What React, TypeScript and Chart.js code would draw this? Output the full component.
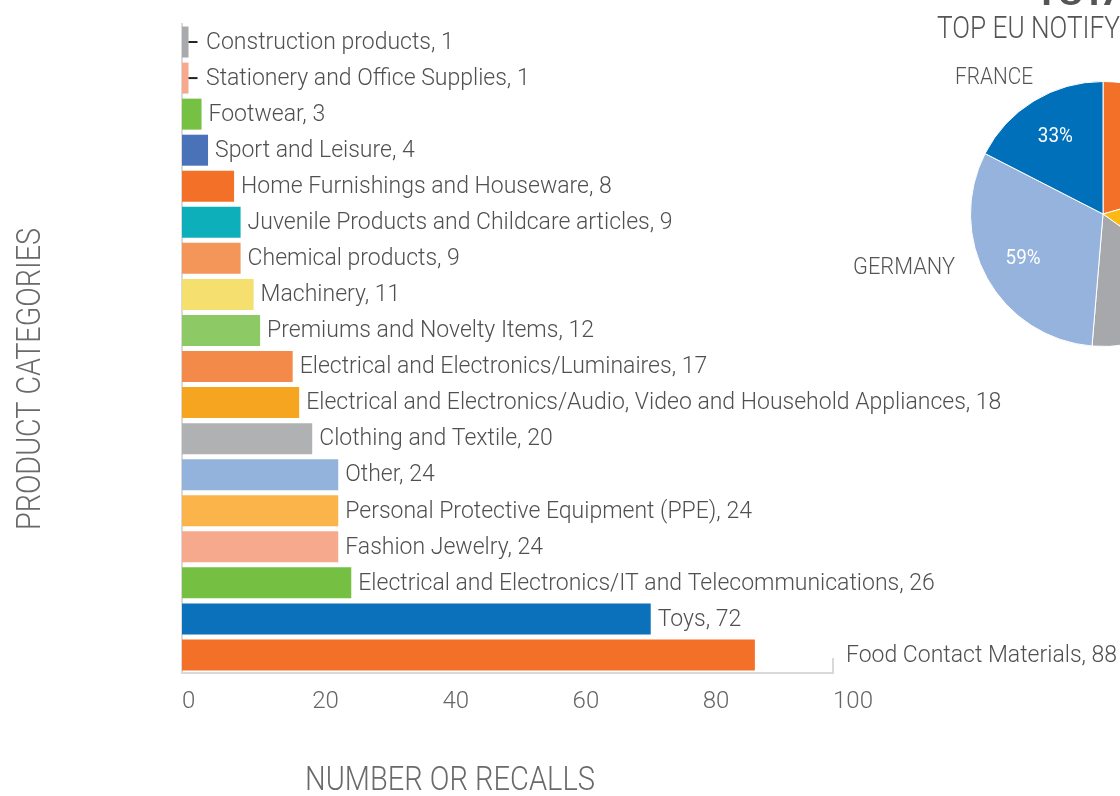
import React, { useEffect, useRef } from "react";
import { Chart, registerables } from "chart.js";

Chart.register(...registerables);

// ---- Bar chart data ----
const categories = [
  "Construction products",
  "Stationery and Office Supplies",
  "Footwear",
  "Sport and Leisure",
  "Home Furnishings and Houseware",
  "Juvenile Products and Childcare articles",
  "Chemical products",
  "Machinery",
  "Premiums and Novelty Items",
  "Electrical and Electronics/Luminaires",
  "Electrical and Electronics/Audio, Video and Household Appliances",
  "Clothing and Textile",
  "Other",
  "Personal Protective Equipment (PPE)",
  "Fashion Jewelry",
  "Electrical and Electronics/IT and Telecommunications",
  "Toys",
  "Food Contact Materials",
];
const recalls = [1, 1, 3, 4, 8, 9, 9, 11, 12, 17, 18, 20, 24, 24, 24, 26, 72, 88];
const barColors = [
  "#A9AAAD", "#F6A98D", "#76C043", "#4A72B8", "#F37029", "#0DB0BA",
  "#F4955A", "#F5DF6E", "#8DC965", "#F48A49", "#F6A520", "#B0B1B3",
  "#93B3DC", "#FBB44A", "#F6A98D", "#75BF43", "#0A71BA", "#F37029",
];
const xTickValues = [0, 20, 40, 60, 80, 100];
const labelsBeyondAxis = ["Food Contact Materials"];
const xAxisTitle = "NUMBER OR RECALLS";
const yAxisTitle = "PRODUCT CATEGORIES";

// ---- Pie chart data ----
const countries = ["Other A", "Other B", "Other C", "GERMANY", "FRANCE"];
const notifications = [39, 27, 31, 59, 33];
const pieColors = ["#F37029", "#FDB913", "#A7A8AB", "#95B3DC", "#0070BA"];
const shownCountryLabels = ["FRANCE", "GERMANY"];
const pieTitleLines = ["TOTAL NOTIFICATIONS", "TOP EU NOTIFYING COUNTRIES"];

const FONT = 'Roboto, "Noto Sans", sans-serif';

// draw text horizontally condensed so that `fitPart` (or the whole text) spans `width`
function condensedText(
  ctx: CanvasRenderingContext2D,
  text: string,
  x: number,
  y: number,
  size: number,
  width: number,
  align: CanvasTextAlign,
  weight = "300",
  fitPart?: string
) {
  ctx.save();
  ctx.font = `${weight} ${size}px ${FONT}`;
  const measured = ctx.measureText(fitPart ?? text).width || 1;
  const sx = width / measured;
  ctx.translate(x, y);
  ctx.scale(sx, 1);
  ctx.textAlign = align;
  ctx.fillText(text, 0, 0);
  ctx.restore();
}

export default function App() {
  const barRef = useRef<HTMLCanvasElement | null>(null);
  const pieRef = useRef<HTMLCanvasElement | null>(null);

  useEffect(() => {
    document.body.style.margin = "0";

    const barLabels = {
      id: "barLabels",
      afterDatasetsDraw(chart: any) {
        const ctx = chart.ctx;
        const xs = chart.scales.x;
        const meta = chart.getDatasetMeta(0);
        ctx.save();
        ctx.font = `300 23px ${FONT}`;
        ctx.fillStyle = "#505050";
        ctx.textBaseline = "middle";
        ctx.textAlign = "left";
        const minX = xs.left + 24;
        meta.data.forEach((bar: any, i: number) => {
          const end = bar.x;
          const y = bar.y;
          let x = end + 7;
          if (labelsBeyondAxis.includes(categories[i])) {
            x = xs.right + 13;
          } else if (x < minX) {
            x = minX;
            ctx.strokeStyle = "#222";
            ctx.lineWidth = 2;
            ctx.beginPath();
            ctx.moveTo(end, y);
            ctx.lineTo(end + 9, y);
            ctx.stroke();
          }
          ctx.fillText(`${categories[i]}, ${recalls[i]}`, x, y + 1);
        });
        // right end bracket of the axis
        ctx.strokeStyle = "#d9d9d9";
        ctx.lineWidth = 2;
        ctx.beginPath();
        ctx.moveTo(xs.right, xs.top - 15);
        ctx.lineTo(xs.right, xs.top + 1);
        ctx.stroke();
        // axis titles
        ctx.fillStyle = "#6a6a6a";
        ctx.textBaseline = "alphabetic";
        condensedText(ctx, xAxisTitle, 450, 790, 34, 290, "center");
        ctx.translate(40, 379);
        ctx.rotate(-Math.PI / 2);
        condensedText(ctx, yAxisTitle, 0, 0, 34, 302, "center");
        ctx.restore();
      },
    };

    const barChart = new Chart(barRef.current as HTMLCanvasElement, {
      type: "bar",
      data: {
        labels: categories,
        datasets: [
          {
            data: recalls,
            backgroundColor: barColors,
            borderWidth: 0,
            barPercentage: 0.86,
            categoryPercentage: 1,
          },
        ],
      },
      options: {
        indexAxis: "y",
        responsive: false,
        animation: false,
        layout: { padding: { left: 182, right: 287, top: 24, bottom: 0 } },
        plugins: { legend: { display: false }, tooltip: { enabled: false } },
        scales: {
          x: {
            min: 0,
            max: 100,
            afterBuildTicks: (s: any) => {
              s.ticks = xTickValues.map((v) => ({ value: v }));
            },
            ticks: {
              align: "start",
              color: "#666666",
              font: { family: FONT, size: 24, weight: "300" },
              padding: 15,
            },
            grid: { display: false, drawTicks: false },
            border: { display: true, color: "#dadada", width: 2 },
            afterFit: (s: any) => {
              s.height = 123;
              s.paddingLeft = 0;
              s.paddingRight = 0;
            },
          },
          y: {
            ticks: { display: false },
            grid: { display: false, drawTicks: false },
            border: { display: true, color: "#dadada", width: 2 },
            afterFit: (s: any) => {
              s.width = 0;
            },
          },
        },
      } as any,
      plugins: [barLabels],
    });

    const pieText = {
      id: "pieText",
      afterDatasetsDraw(chart: any) {
        const ctx = chart.ctx;
        const meta = chart.getDatasetMeta(0);
        ctx.save();
        ctx.fillStyle = "#ffffff";
        ctx.textBaseline = "middle";
        meta.data.forEach((arc: any, i: number) => {
          const mid = (arc.startAngle + arc.endAngle) / 2;
          const r = arc.outerRadius * 0.69;
          condensedText(
            ctx,
            `${notifications[i]}%`,
            arc.x + Math.cos(mid) * r,
            arc.y + Math.sin(mid) * r + 1,
            20,
            35,
            "center",
            "400"
          );
        });
        const first = meta.data[0];
        const cx = first.x;
        const cy = first.y;
        ctx.fillStyle = "#555555";
        ctx.textBaseline = "alphabetic";
        const fr = countries.indexOf(shownCountryLabels[0]);
        const de = countries.indexOf(shownCountryLabels[1]);
        if (fr >= 0) condensedText(ctx, countries[fr], cx - 109, cy - 130, 24, 78, "center");
        if (de >= 0) condensedText(ctx, countries[de], cx - 199, cy + 60, 24, 102, "center");
        condensedText(ctx, pieTitleLines[0], cx - 68, 5, 31, 150, "left", "bold", "TOTAL N");
        condensedText(ctx, pieTitleLines[1], cx - 166, 38, 31, 183, "left", "300", "TOP EU NOTIFY");
        ctx.restore();
      },
    };

    const pieChart = new Chart(pieRef.current as HTMLCanvasElement, {
      type: "pie",
      data: {
        labels: countries,
        datasets: [
          {
            data: notifications,
            backgroundColor: pieColors,
            borderColor: "#ffffff",
            borderWidth: 1,
          },
        ],
      },
      options: {
        responsive: false,
        animation: false,
        layout: { padding: { left: 130, right: 130, top: 81, bottom: 83 } },
        plugins: { legend: { display: false }, tooltip: { enabled: false } },
      } as any,
      plugins: [pieText],
    });

    return () => {
      barChart.destroy();
      pieChart.destroy();
    };
  }, []);

  return (
    <div
      style={{
        position: "fixed",
        left: 0,
        top: 0,
        width: 1120,
        height: 796,
        overflow: "hidden",
        background: "#ffffff",
      }}
    >
      <canvas
        ref={barRef}
        width={1120}
        height={796}
        style={{ position: "absolute", left: 0, top: 0, width: 1120, height: 796 }}
      />
      <canvas
        ref={pieRef}
        width={526}
        height={430}
        style={{ position: "absolute", left: 840, top: 0, width: 526, height: 430 }}
      />
    </div>
  );
}
